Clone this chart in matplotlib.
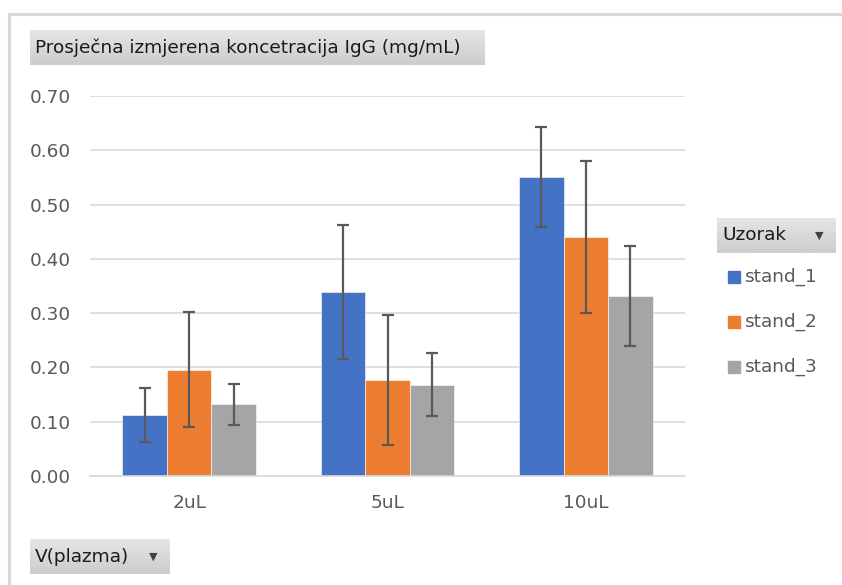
import matplotlib

matplotlib.use("Agg")
import matplotlib.pyplot as plt
import numpy as np
from matplotlib.patches import Rectangle
from matplotlib.lines import Line2D

plt.rcParams["font.family"] = ["DejaVu Sans"]

# ---------------- data ----------------
categories = ["2uL", "5uL", "10uL"]
series = ["stand_1", "stand_2", "stand_3"]
stand_1 = [0.113, 0.339, 0.550]
stand_2 = [0.196, 0.177, 0.441]
stand_3 = [0.132, 0.168, 0.332]
err_1 = [0.050, 0.124, 0.092]
err_2 = [0.106, 0.119, 0.140]
err_3 = [0.038, 0.058, 0.092]
yticks = [0.0, 0.1, 0.2, 0.3, 0.4, 0.5, 0.6, 0.7]

title = "Prosječna izmjerena koncetracija IgG (mg/mL)"
legend_title = "Uzorak"
xfield = "V(plazma)"

colors = ["#4472C4", "#ED7D31", "#A5A5A5"]
W, H = 842, 585
FS = 13.3

fig = plt.figure(figsize=(W / 100, H / 100), dpi=100)
ax = fig.add_axes([90 / W, 1 - 476 / H, (685 - 90) / W, (476 - 96) / H])

x = np.arange(len(categories))
bw = 0.225
values = [stand_1, stand_2, stand_3]
errs = [err_1, err_2, err_3]
for i, (vals, err) in enumerate(zip(values, errs)):
    ax.bar(x + (i - 1) * bw, vals, bw, color=colors[i], edgecolor="white", linewidth=0.4, zorder=2, label=series[i])
    ax.errorbar(x + (i - 1) * bw, vals, yerr=err, fmt="none", ecolor="#595959",
                elinewidth=1.6, capsize=4.3, capthick=1.6, zorder=3)

ax.set_xlim(-0.5, len(categories) - 0.5)
ax.set_ylim(0, 0.7)
ax.set_yticks(yticks)
ax.set_yticklabels([f"{v:.2f}" for v in yticks])
ax.set_xticks(x)
ax.set_xticklabels(categories)
ax.tick_params(axis="both", length=0, labelsize=FS, colors="#595959")
ax.tick_params(axis="y", pad=14)
ax.tick_params(axis="x", pad=13)
ax.grid(axis="y", color="#d9d9d9", linewidth=1.2, zorder=0)
ax.set_axisbelow(True)
for s in ["top", "right", "left"]:
    ax.spines[s].set_visible(False)
ax.spines["bottom"].set_color("#d9d9d9")
ax.spines["bottom"].set_linewidth(1.2)

# ---------------- chart frame ----------------
fig.add_artist(Line2D([9 / W, 9 / W], [0, 1 - 14 / H], color="#d9d9d9", linewidth=2.2))
fig.add_artist(Line2D([9 / W, 1], [1 - 14 / H, 1 - 14 / H], color="#d9d9d9", linewidth=2.2))


def field_button(x0, y0, x1, y1, label, arrow=False):
    # pivot-chart style gray gradient button, pixel coords from top-left
    bax = fig.add_axes([x0 / W, 1 - y1 / H, (x1 - x0) / W, (y1 - y0) / H])
    grad = np.linspace(0.90, 0.80, 64).reshape(-1, 1)
    bax.imshow(grad, aspect="auto", cmap="gray", vmin=0, vmax=1, extent=[0, 1, 0, 1])
    bax.set_xlim(0, 1)
    bax.set_ylim(0, 1)
    bax.axis("off")
    fig.text((x0 + 5) / W, 1 - (y0 + y1) / 2 / H, label, fontsize=FS, color="#1a1a1a", va="center", ha="left")
    if arrow:
        fig.text((x1 - 17) / W, 1 - (y0 + y1) / 2 / H, "▼", fontsize=8, color="#404040", va="center", ha="center")


field_button(30, 30, 485, 65, title)
field_button(717, 218, 836, 253, legend_title, arrow=True)
field_button(30, 539, 170, 574, xfield, arrow=True)

# ---------------- legend entries ----------------
for i, name in enumerate(series):
    yc = 277 + i * 45
    fig.add_artist(Rectangle((728 / W, 1 - (yc + 6) / H), 12 / W, 12 / H, color=colors[i], transform=fig.transFigure))
    fig.text(745 / W, 1 - yc / H, name, fontsize=FS, color="#595959", va="center", ha="left")

fig.savefig("out.png", dpi=100)
